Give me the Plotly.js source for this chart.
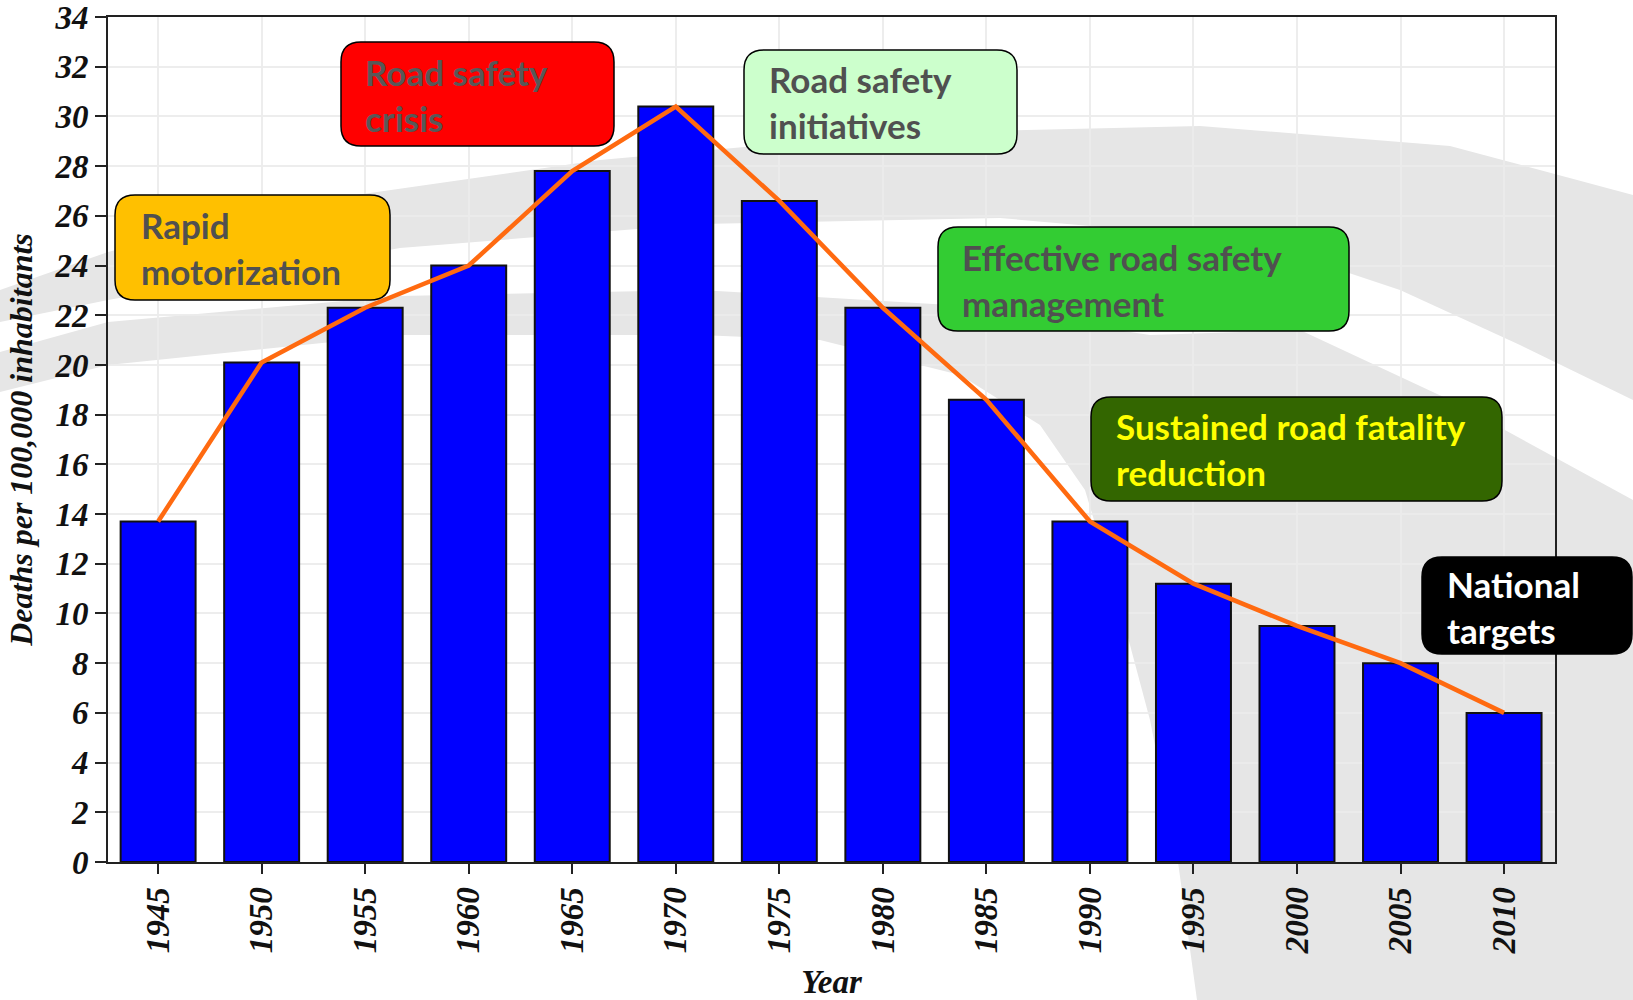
<!DOCTYPE html>
<html>
<head>
<meta charset="utf-8">
<script src="https://cdn.plot.ly/plotly-3.0.1.min.js"></script>
<style>html,body{margin:0;padding:0;background:#fff}#chart{width:1633px;height:1000px}</style>
</head>
<body>
<div id="chart"></div>
<script>
// ---- data ----
const years = [1945, 1950, 1955, 1960, 1965, 1970, 1975, 1980, 1985, 1990, 1995, 2000, 2005, 2010];
const deathRate = [13.7, 20.1, 22.3, 24.0, 27.8, 30.4, 26.6, 22.3, 18.6, 13.7, 11.2, 9.5, 8.0, 6.0];
const trendRate = [13.7, 20.1, 22.3, 24.0, 27.8, 30.4, 26.6, 22.3, 18.6, 13.7, 11.2, 9.5, 8.0, 6.0];
const yearLabels = years.map(String);
const phaseLabels = [
  "Rapid<br>motorization",
  "Road safety<br>crisis",
  "Road safety<br>initiatives",
  "Effective road safety<br>management",
  "Sustained road fatality<br>reduction",
  "National<br>targets"
];

// ---- layout geometry (pixels) ----
const W = 1633, H = 1000;
const M = {l: 108, r: 78, t: 17, b: 138};
const PW = W - M.l - M.r, PH = H - M.t - M.b;
const px = x => (x - M.l) / PW;
const py = y => (H - M.b - y) / PH;

function roundRect(x0, y0, x1, y1, r) {
  const X = v => px(v).toFixed(5), Y = v => py(v).toFixed(5);
  return `M${X(x0 + r)},${Y(y0)} L${X(x1 - r)},${Y(y0)} Q${X(x1)},${Y(y0)} ${X(x1)},${Y(y0 + r)} ` +
         `L${X(x1)},${Y(y1 - r)} Q${X(x1)},${Y(y1)} ${X(x1 - r)},${Y(y1)} ` +
         `L${X(x0 + r)},${Y(y1)} Q${X(x0)},${Y(y1)} ${X(x0)},${Y(y1 - r)} ` +
         `L${X(x0)},${Y(y0 + r)} Q${X(x0)},${Y(y0)} ${X(x0 + r)},${Y(y0)} Z`;
}
function poly(pts) {
  return 'M' + pts.map(p => px(p[0]).toFixed(5) + ',' + py(p[1]).toFixed(5)).join(' L') + ' Z';
}

// background watermark swooshes
const swooshA = [[0,290],[108,252],[300,203],[600,160],[900,133],[1200,126],[1450,146],[1633,195],
                 [1633,400],[1520,345],[1400,290],[1250,240],[1000,218],[700,224],[400,248],[108,300],[0,322]];
const swooshB = [[0,352],[108,322],[400,296],[700,290],[950,305],[1150,335],[1300,330],[1450,400],[1633,500],
                 [1633,1000],[1197,1000],[1178,862],[1150,720],[1118,600],[1085,490],[1040,425],[960,375],[820,340],[700,335],[400,335],[108,365],[0,392]];

const boxes = [
  {b:[115,195,390,300], fill:'#ffc000', tx:139, ty:248, col:'#505050'},
  {b:[341,42,614,146],  fill:'#ff0000', tx:363, ty:95,  col:'#585858'},
  {b:[744,50,1017,154], fill:'#ccffcc', tx:767, ty:102, col:'#505050'},
  {b:[938,227,1349,331],fill:'#33cc33', tx:960, ty:280, col:'#505050'},
  {b:[1091,397,1502,501],fill:'#336600',tx:1114,ty:449, col:'#ffff00'},
  {b:[1422,557,1632,654],fill:'#000000',tx:1445,ty:607, col:'#ffffff'}
];

const shapes = [
  {type:'path', xref:'paper', yref:'paper', path:poly(swooshA), fillcolor:'#e6e6e6', line:{width:0}, layer:'below'},
  {type:'path', xref:'paper', yref:'paper', path:poly(swooshB), fillcolor:'#e6e6e6', line:{width:0}, layer:'below'}
];
const annotations = [];
boxes.forEach((bx, i) => {
  shapes.push({type:'path', xref:'paper', yref:'paper', path:roundRect(bx.b[0], bx.b[1], bx.b[2], bx.b[3], 20),
    fillcolor:bx.fill, line:{color:'#000', width:1.5}, layer:'above'});
  annotations.push({xref:'paper', yref:'paper', x:px(bx.tx), y:py(bx.ty), xanchor:'left', yanchor:'middle',
    align:'left', showarrow:false, text:phaseLabels[i],
    font:{family:'Lato', size:35, weight:'bold', color:bx.col}});
});

const serif = {family:'Liberation Serif, Times New Roman, serif', weight:'bold', style:'italic', color:'#111'};

const traces = [
  {type:'bar', x:years, y:deathRate, width:3.62,
   marker:{color:'#0000ff', line:{color:'#111', width:2}}, hoverinfo:'x+y'},
  {type:'scatter', mode:'lines', x:years, y:trendRate,
   line:{color:'#ff6a10', width:4.5}, hoverinfo:'x+y'}
];

const layout = {
  width:W, height:H, margin:M, showlegend:false,
  paper_bgcolor:'#ffffff', plot_bgcolor:'rgba(0,0,0,0)',
  xaxis:{range:[1942.58, 2012.46], tickvals:years, ticktext:yearLabels, tickangle:-90,
    ticks:'outside', ticklen:10, tickwidth:2, tickcolor:'#222', ticklabeloverflow:'allow',
    showline:true, mirror:true, linecolor:'#222', linewidth:2,
    showgrid:true, gridcolor:'rgba(235,235,235,0.9)', gridwidth:2, zeroline:false,
    tickfont:Object.assign({size:33}, serif),
    title:{text:'Year', font:Object.assign({size:33}, serif), standoff:21}},
  yaxis:{range:[0,34], dtick:2, tick0:0,
    ticks:'outside', ticklen:11, tickwidth:2, tickcolor:'#222', ticklabeloverflow:'allow',
    showline:true, mirror:true, linecolor:'#222', linewidth:2,
    showgrid:true, gridcolor:'rgba(235,235,235,0.9)', gridwidth:2, zeroline:false,
    tickfont:Object.assign({size:33}, serif),
    title:{text:'Deaths per 100,000 inhabitants', font:Object.assign({size:32}, serif), standoff:12}},
  shapes:shapes, annotations:annotations
};

Plotly.newPlot('chart', traces, layout, {staticPlot:true});
</script>
</body>
</html>
